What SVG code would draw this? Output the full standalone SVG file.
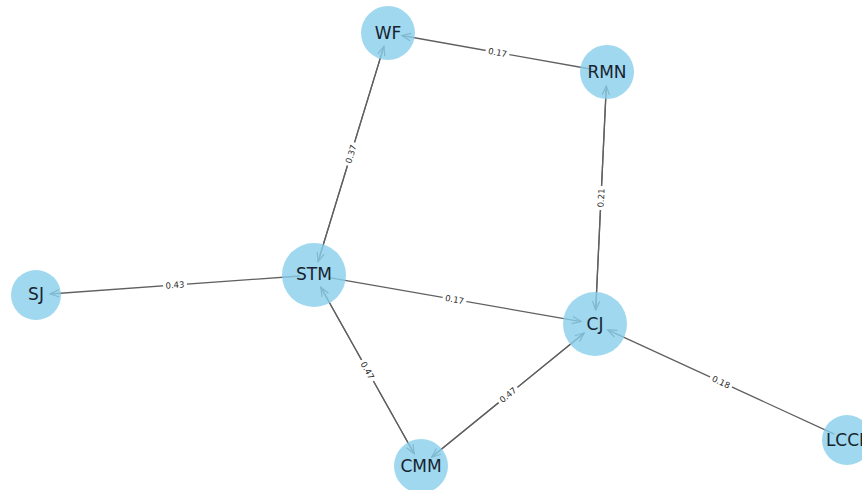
<svg xmlns="http://www.w3.org/2000/svg" width="862" height="490" viewBox="0 0 862 490">
<style>
.edge{stroke:#606060;stroke-width:1.3;fill:none;marker-end:url(#arr)}
.node circle{fill:#87CEEB;fill-opacity:0.8}
.node text{font-family:"DejaVu Sans",sans-serif;font-size:17px;fill:#17232e;text-anchor:middle;dominant-baseline:central}
.lbl rect{fill:#fff}
.lbl text{font-family:"DejaVu Sans",sans-serif;font-size:8.5px;fill:#2a2a2a;text-anchor:middle;dominant-baseline:central}
</style>
<defs>
<marker id="arr" markerUnits="userSpaceOnUse" markerWidth="12" markerHeight="12" refX="9" refY="4.5" orient="auto" overflow="visible">
<path d="M0,0.8 L9,4.5 L0,8.2" fill="none" stroke="#606060" stroke-width="1.2"/>
</marker>
</defs>
<rect width="862" height="490" fill="#fff"/>
<g id="edges">
<line class="edge" x1="593.2" y1="69.5" x2="401.8" y2="35.5"/>
<line class="edge" x1="318.1" y1="261.6" x2="383.9" y2="46.4"/>
<line class="edge" x1="383.9" y1="46.4" x2="318.1" y2="261.6"/>
<line class="edge" x1="606.3" y1="86" x2="595.7" y2="310"/>
<line class="edge" x1="595.7" y1="310" x2="606.3" y2="86"/>
<line class="edge" x1="300" y1="276" x2="50" y2="294"/>
<line class="edge" x1="327.8" y1="277.4" x2="581.2" y2="321.6"/>
<line class="edge" x1="320.8" y1="287.2" x2="414.2" y2="453.8"/>
<line class="edge" x1="414.2" y1="453.8" x2="320.8" y2="287.2"/>
<line class="edge" x1="431.8" y1="457.1" x2="584.2" y2="332.9"/>
<line class="edge" x1="584.2" y1="332.9" x2="431.8" y2="457.1"/>
<line class="edge" x1="834.3" y1="434.1" x2="607.7" y2="329.9"/>
</g>
<g id="WF" class="node"><circle cx="388" cy="33" r="27"/><text x="388" y="33">WF</text></g>
<g id="RMN" class="node"><circle cx="607" cy="72" r="27"/><text x="607" y="72">RMN</text></g>
<g id="STM" class="node"><circle cx="314" cy="275" r="32"/><text x="314" y="274">STM</text></g>
<g id="SJ" class="node"><circle cx="36" cy="295" r="25"/><text x="36" y="294">SJ</text></g>
<g id="CJ" class="node"><circle cx="595" cy="324" r="32"/><text x="595" y="324">CJ</text></g>
<g id="CMM" class="node"><circle cx="421" cy="466" r="27"/><text x="421" y="466">CMM</text></g>
<g id="LCCI" class="node"><circle cx="847" cy="440" r="25"/><text x="845" y="440">LCCI</text></g>
<g id="labels">
<g class="lbl" transform="translate(497.5,52.5) rotate(10.1)"><rect x="-12" y="-5" width="24" height="10"/><text>0.17</text></g>
<g class="lbl" transform="translate(351,154) rotate(-73)"><rect x="-12" y="-5" width="24" height="10"/><text>0.37</text></g>
<g class="lbl" transform="translate(601,198) rotate(-87.3)"><rect x="-12" y="-5" width="24" height="10"/><text>0.21</text></g>
<g class="lbl" transform="translate(175,285) rotate(-4.1)"><rect x="-12" y="-5" width="24" height="10"/><text>0.43</text></g>
<g class="lbl" transform="translate(454.5,299.5) rotate(9.9)"><rect x="-12" y="-5" width="24" height="10"/><text>0.17</text></g>
<g class="lbl" transform="translate(367.5,370.5) rotate(60.7)"><rect x="-12" y="-5" width="24" height="10"/><text>0.47</text></g>
<g class="lbl" transform="translate(508,395) rotate(-39.2)"><rect x="-12" y="-5" width="24" height="10"/><text>0.47</text></g>
<g class="lbl" transform="translate(721,382) rotate(24.7)"><rect x="-12" y="-5" width="24" height="10"/><text>0.18</text></g>
</g>
</svg>
